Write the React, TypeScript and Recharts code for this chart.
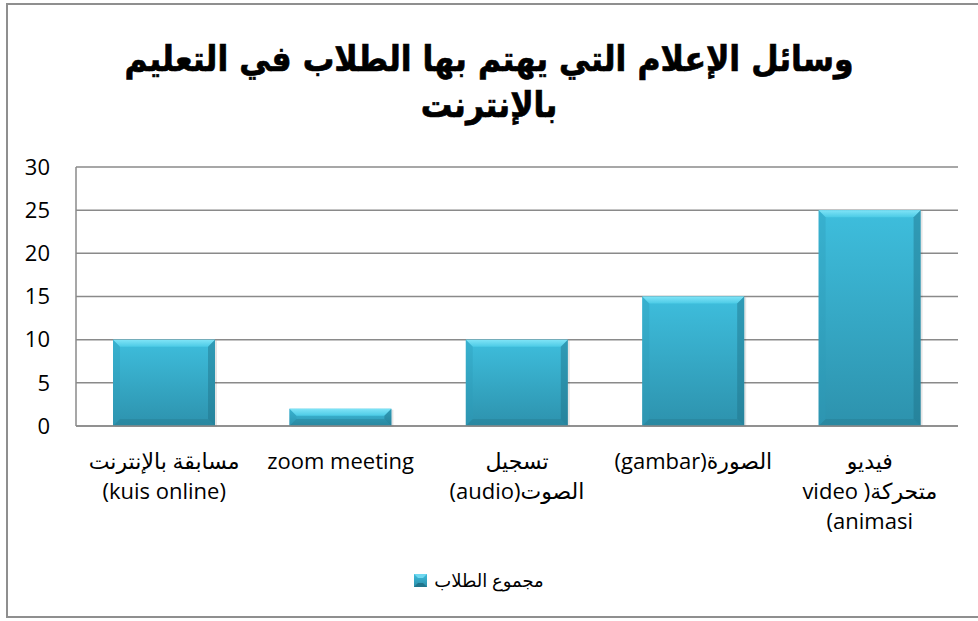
import React from "react";
import { BarChart, Bar, XAxis, YAxis, CartesianGrid, Legend } from "recharts";

const titleLines = ["وسائل الإعلام التي يهتم بها الطلاب في التعليم", "بالإنترنت"];
const categories = ["kuis", "zoom", "audio", "gambar", "video"];
// each label: lines; each line: visual runs left-to-right, [text, isArabic]
const categoryLabels: [string, boolean][][][] = [
  [[["مسابقة بالإنترنت", true]], [["(kuis online)", false]]],
  [[["zoom meeting", false]]],
  [[["تسجيل", true]], [["(audio)", false], ["الصوت", true]]],
  [[["(gambar)", false], ["الصورة", true]]],
  [[["فيديو", true]], [["video )", false], ["متحركة", true]], [["(animasi", false]]],
];
const studentValues = [10, 2, 10, 15, 25];
const seriesName = "مجموع الطلاب";
const yTicks = [0, 5, 10, 15, 20, 25, 30];

const data = categories.map((c, i) => ({ key: c, value: studentValues[i] }));

const FONT = "'Open Sans', 'DejaVu Sans', sans-serif";
const TICK_SIZE = 22;

let measureCtx: CanvasRenderingContext2D | null = null;
const measure = (t: string) => {
  if (!measureCtx) {
    const c = document.createElement("canvas");
    measureCtx = c.getContext("2d");
  }
  if (!measureCtx) return t.length * TICK_SIZE * 0.55;
  measureCtx.font = `${TICK_SIZE}px ${FONT}`;
  return measureCtx.measureText(t).width;
};

const BevelBar = (props: any) => {
  const { x, y, width, height } = props;
  if (!height || height <= 0) return null;
  const b = Math.min(7, height / 2);
  return (
    <g>
      <rect x={x + 2} y={y + 1} width={width} height={height} fill="rgba(0,0,0,0.10)" />
      <rect x={x} y={y} width={width} height={height} fill="url(#barGrad)" />
      <polygon
        points={`${x},${y} ${x + width},${y} ${x + width - b},${y + b} ${x + b},${y + b}`}
        fill="url(#topGrad)"
      />
      <polygon
        points={`${x},${y} ${x + b},${y + b} ${x + b},${y + height - b} ${x},${y + height}`}
        fill="#2f9bb8"
        opacity={0.35}
      />
      <polygon
        points={`${x + width},${y} ${x + width - b},${y + b} ${x + width - b},${y + height - b} ${x + width},${y + height}`}
        fill="#1f7088"
        opacity={0.45}
      />
      <polygon
        points={`${x},${y + height} ${x + b},${y + height - b} ${x + width - b},${y + height - b} ${x + width},${y + height}`}
        fill="#216f86"
        opacity={0.3}
      />
    </g>
  );
};

const CategoryTick = (props: any) => {
  const { x, y, payload } = props;
  const idx = categories.indexOf(payload.value);
  const lines = idx >= 0 ? categoryLabels[idx] : [[[String(payload.value), false]]];
  return (
    <g>
      {lines.map((runs, li) => {
        const widths = runs.map((r) => measure(r[0]));
        const total = widths.reduce((a, b) => a + b, 0);
        let cx = x - total / 2;
        return runs.map((r, ri) => {
          const mid = cx + widths[ri] / 2;
          cx += widths[ri];
          return (
            <text
              key={`${li}-${ri}`}
              x={mid}
              y={y + 35 + li * 30}
              textAnchor="middle"
              fontSize={TICK_SIZE}
              fontFamily={FONT}
              fill="#000"
              style={
                r[1]
                  ? { direction: "rtl", unicodeBidi: "embed" }
                  : { direction: "ltr", unicodeBidi: "bidi-override" }
              }
            >
              {r[0]}
            </text>
          );
        });
      })}
    </g>
  );
};

const LegendContent = () => (
  <div
    style={{
      height: 30,
      display: "flex",
      alignItems: "center",
      justifyContent: "center",
      fontFamily: FONT,
      fontSize: 18,
      color: "#000",
    }}
  >
    <svg width={13} height={13} style={{ marginRight: 7 }}>
      <rect x={0} y={0} width={13} height={13} fill="url(#legGrad)" />
      <polygon points="0,0 13,0 9,4 4,4" fill="#6fd8f0" />
      <polygon points="0,13 4,9 9,9 13,13" fill="#21758c" />
      <defs>
        <linearGradient id="legGrad" x1="0" y1="0" x2="0" y2="1">
          <stop offset="0%" stopColor="#3fbddc" />
          <stop offset="100%" stopColor="#2a8ea9" />
        </linearGradient>
      </defs>
    </svg>
    <span>{seriesName}</span>
  </div>
);

export default function App() {
  return (
    <div
      style={{
        position: "absolute",
        left: 0,
        top: 0,
        width: 978,
        height: 621,
        background: "#fff",
        overflow: "hidden",
      }}
    >
      <div
        style={{
          position: "absolute",
          left: 6,
          top: 3,
          width: 975,
          height: 615,
          border: "2px solid #8f8f8f",
          boxSizing: "border-box",
        }}
      />
      <div
        dir="rtl"
        style={{
          position: "absolute",
          left: 0,
          top: 36,
          width: 978,
          textAlign: "center",
          fontFamily: "'DejaVu Sans', sans-serif",
          fontWeight: "bold",
          fontSize: 35,
          lineHeight: "46px",
          color: "#000",
          WebkitTextStroke: "0.7px #000",
          transform: "scaleX(0.9)",
          transformOrigin: "489px 0",
        }}
      >
        {titleLines.map((t, i) => (
          <div key={i}>{t}</div>
        ))}
      </div>
      <div style={{ position: "absolute", left: 0, top: 0 }}>
        <BarChart
          width={978}
          height={621}
          data={data}
          margin={{ top: 167, right: 20, bottom: 26, left: 0 }}
        >
          <defs>
            <linearGradient id="barGrad" x1="0" y1="0" x2="0" y2="1">
              <stop offset="0%" stopColor="#3ebedd" />
              <stop offset="100%" stopColor="#2d92ad" />
            </linearGradient>
            <linearGradient id="topGrad" x1="0" y1="0" x2="0" y2="1">
              <stop offset="0%" stopColor="#80e4f7" />
              <stop offset="100%" stopColor="#4ccbe6" />
            </linearGradient>
          </defs>
          <CartesianGrid vertical={false} stroke="#8a8a8a" strokeWidth={1.5} />
          <XAxis
            dataKey="key"
            height={139}
            interval={0}
            tickLine={false}
            axisLine={{ stroke: "#8a8a8a", strokeWidth: 1.5 }}
            tick={<CategoryTick />}
          />
          <YAxis
            width={76}
            domain={[0, 30]}
            ticks={yTicks}
            interval={0}
            tickLine={false}
            tickSize={0}
            tickMargin={26}
            axisLine={{ stroke: "#8a8a8a", strokeWidth: 1.5 }}
            tick={{ fontSize: 22, fontFamily: FONT, fill: "#000" }}
          />
          <Legend verticalAlign="bottom" height={30} content={<LegendContent />} />
          <Bar
            dataKey="value"
            name={seriesName}
            barSize={102}
            shape={<BevelBar />}
            isAnimationActive={false}
          />
        </BarChart>
      </div>
    </div>
  );
}
